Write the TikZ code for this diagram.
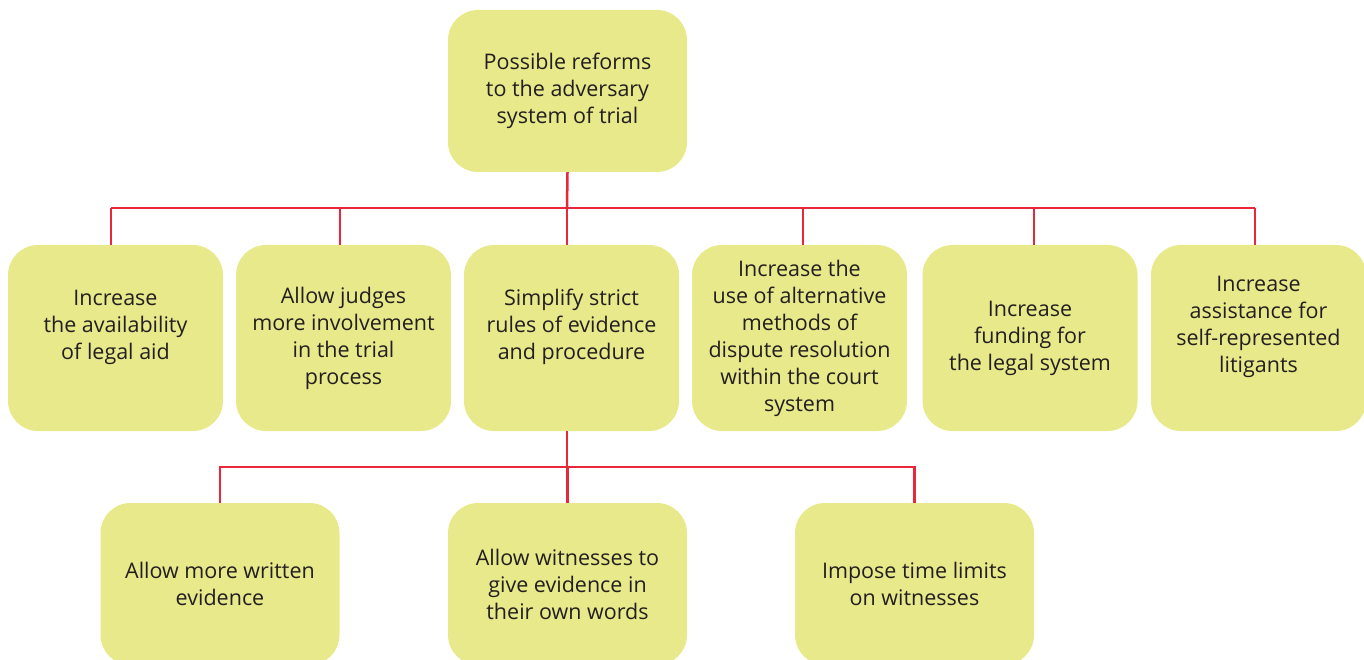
\documentclass[tikz,border=0pt]{standalone}
\usepackage{fontspec}
\setmainfont{Open Sans}
\definecolor{boxfill}{HTML}{E8E98A}
\definecolor{linered}{HTML}{E8283A}
\definecolor{txt}{HTML}{231F20}
\begin{document}
\begin{tikzpicture}[x=1pt,y=-1pt,
  box/.style={fill=boxfill, draw=none, rounded corners=30pt, align=center,
    text=txt, font=\fontsize{21.5}{27}\selectfont, inner sep=0pt},
  rowbox/.style={box, minimum width=215pt, minimum height=186pt},
  bigbox/.style={box, minimum width=239pt, minimum height=162pt},
  conn/.style={draw=linered, line width=2.5pt}]
\useasboundingbox (0,0) rectangle (1364,660);
\clip (0,0) rectangle (1364,660);
\node[bigbox] (top) at (567.5,91) {Possible reforms\\to the adversary\\system of trial};
\node[rowbox] (b1) at (115.5,338) {Increase\\the availability\\of legal aid\\\mbox{}};
\node[rowbox] (b2) at (343.5,338) {Allow judges\\more involvement\\in the trial\\process};
\node[rowbox] (b3) at (571.5,338) {Simplify strict\\rules of evidence\\and procedure\\\mbox{}};
\node[rowbox] (b4) at (799.5,338) {Increase the\\use of alternative\\methods of\\dispute resolution\\within the court\\system};
\node[rowbox] (b5) at (1030,338) {Increase\\funding for\\the legal system};
\node[rowbox] (b6) at (1258.5,338) {Increase\\assistance for\\self-represented\\litigants\\\mbox{}};
\node[bigbox] (c1) at (220,584) {Allow more written\\evidence};
\node[bigbox] (c2) at (567.5,584) {Allow witnesses to\\give evidence in\\their own words};
\node[bigbox] (c3) at (914.5,584) {Impose time limits\\on witnesses};
% junction points on the buses
\coordinate (j0) at (567,208);
\coordinate (j1) at (111,208);
\coordinate (j2) at (340,208);
\coordinate (j3) at (567,208);
\coordinate (j4) at (803,208);
\coordinate (j5) at (1034,208);
\coordinate (j6) at (1255,208);
\coordinate (k0) at (567,467);
% top level connectors
\draw[conn] (top.south) -- (j0);
\draw[conn] (j1) -- (j6);
\draw[conn] (j1) -- (j1 |- b1.north);
\draw[conn] (j2) -- (j2 |- b2.north);
\draw[conn] (j3) -- (j3 |- b3.north);
\draw[conn] (j4) -- (j4 |- b4.north);
\draw[conn] (j5) -- (j5 |- b5.north);
\draw[conn] (j6) -- (j6 |- b6.north);
% second level connectors
\draw[conn] (k0 |- b3.south) -- (k0);
\draw[conn] (c1.north) |- (k0) -| (c3.north);
\draw[conn] (c2.north) -- (c2.north |- k0);
\end{tikzpicture}
\end{document}
